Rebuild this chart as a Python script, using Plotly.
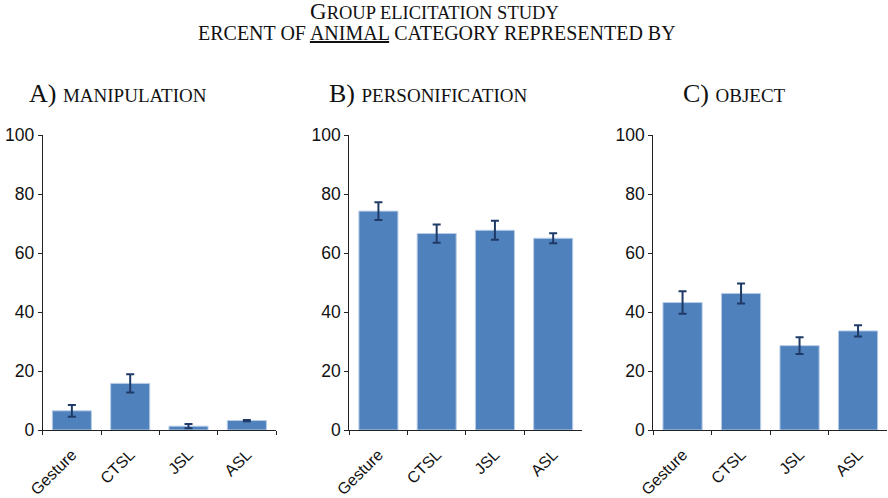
import plotly.graph_objects as go

categories = ['Gesture', 'CTSL', 'JSL', 'ASL']

manipulation = [6.5, 15.8, 1.3, 3.2]
manipulation_err = [2.0, 3.1, 0.7, 0.2]

personification = [74.2, 66.6, 67.7, 65.0]
personification_err = [3.0, 3.1, 3.2, 1.7]

object_vals = [43.2, 46.3, 28.6, 33.6]
object_err = [3.8, 3.4, 2.8, 1.9]

panel_letters = ['A)', 'B)', 'C)']
panel_names = ['MANIPULATION', 'PERSONIFICATION', 'OBJECT']
y_ticks = [0, 20, 40, 60, 80, 100]

BAR_COLOR = '#4f81bd'
ERR_COLOR = '#1f3a66'
SERIF = 'Liberation Serif'
SANS = 'Liberation Sans'

W, H = 888, 498

# pixel positions
x_domains = [(42.7, 276.0), (349.3, 582.3), (653.3, 887.3)]
y_bottom, y_top = 430, 135
title_x = [27, 327, 681]

fig = go.Figure()

series = [(manipulation, manipulation_err),
          (personification, personification_err),
          (object_vals, object_err)]

for i, (vals, errs) in enumerate(series):
    n = '' if i == 0 else str(i + 1)
    fig.add_trace(go.Bar(
        x=categories,
        y=vals,
        xaxis='x' + n,
        yaxis='y' + n,
        width=0.67,
        marker=dict(color=BAR_COLOR, line=dict(color='#b9cde5', width=1)),
        error_y=dict(type='data', array=errs, color=ERR_COLOR, thickness=2, width=4),
        showlegend=False,
        hoverinfo='skip'
    ))

layout = dict(
    width=W,
    height=H,
    margin=dict(l=0, r=0, t=0, b=0),
    paper_bgcolor='white',
    plot_bgcolor='white',
)

for i, (x0, x1) in enumerate(x_domains):
    n = '' if i == 0 else str(i + 1)
    layout['xaxis' + n] = dict(
        domain=[x0 / W, x1 / W],
        anchor='y' + n,
        type='category',
        range=[-0.5, 3.5],
        automargin=False,
        showline=True,
        linecolor='#222222',
        linewidth=1,
        ticks='outside',
        tickson='boundaries',
        ticklen=4,
        tickcolor='#222222',
        tickangle=-45,
        ticklabelstandoff=8,
        tickfont=dict(family=SANS, size=16, color='#111111'),
        showgrid=False,
        zeroline=False,
    )
    layout['yaxis' + n] = dict(
        domain=[(H - y_bottom) / H, (H - y_top) / H],
        anchor='x' + n,
        range=[0, 100],
        tickvals=y_ticks,
        automargin=False,
        showline=True,
        linecolor='#222222',
        linewidth=1,
        ticks='outside',
        ticklen=4,
        tickcolor='#222222',
        tickfont=dict(family=SANS, size=17.5, color='#111111'),
        showgrid=False,
        zeroline=False,
    )

fig.update_layout(**layout)

# small caps done by hand: big first letter, smaller capitals after it
fig.add_annotation(
    text="G<span style='font-size:18.5px'>ROUP ELICITATION STUDY</span>",
    xref='paper', yref='paper',
    x=434 / W, y=1 - 12 / H,
    xanchor='center', yanchor='middle',
    showarrow=False,
    font=dict(family=SERIF, size=23, color='#111111')
)
fig.add_annotation(
    text='ERCENT OF <u>ANIMAL</u> CATEGORY REPRESENTED BY',
    xref='paper', yref='paper',
    x=437 / W, y=1 - 33 / H,
    xanchor='center', yanchor='middle',
    showarrow=False,
    font=dict(family=SERIF, size=20, color='#111111')
)

for tx, letter, name in zip(title_x, panel_letters, panel_names):
    fig.add_annotation(
        text=f"{letter} <span style='font-size:19px'>{name}</span>",
        xref='paper', yref='paper',
        x=tx / W, y=1 - 93 / H,
        xanchor='left', yanchor='middle',
        showarrow=False,
        font=dict(family=SERIF, size=26, color='#111111')
    )

fig.write_html('out.html', config={'displayModeBar': False},
               post_script="document.body.style.margin='0';")
